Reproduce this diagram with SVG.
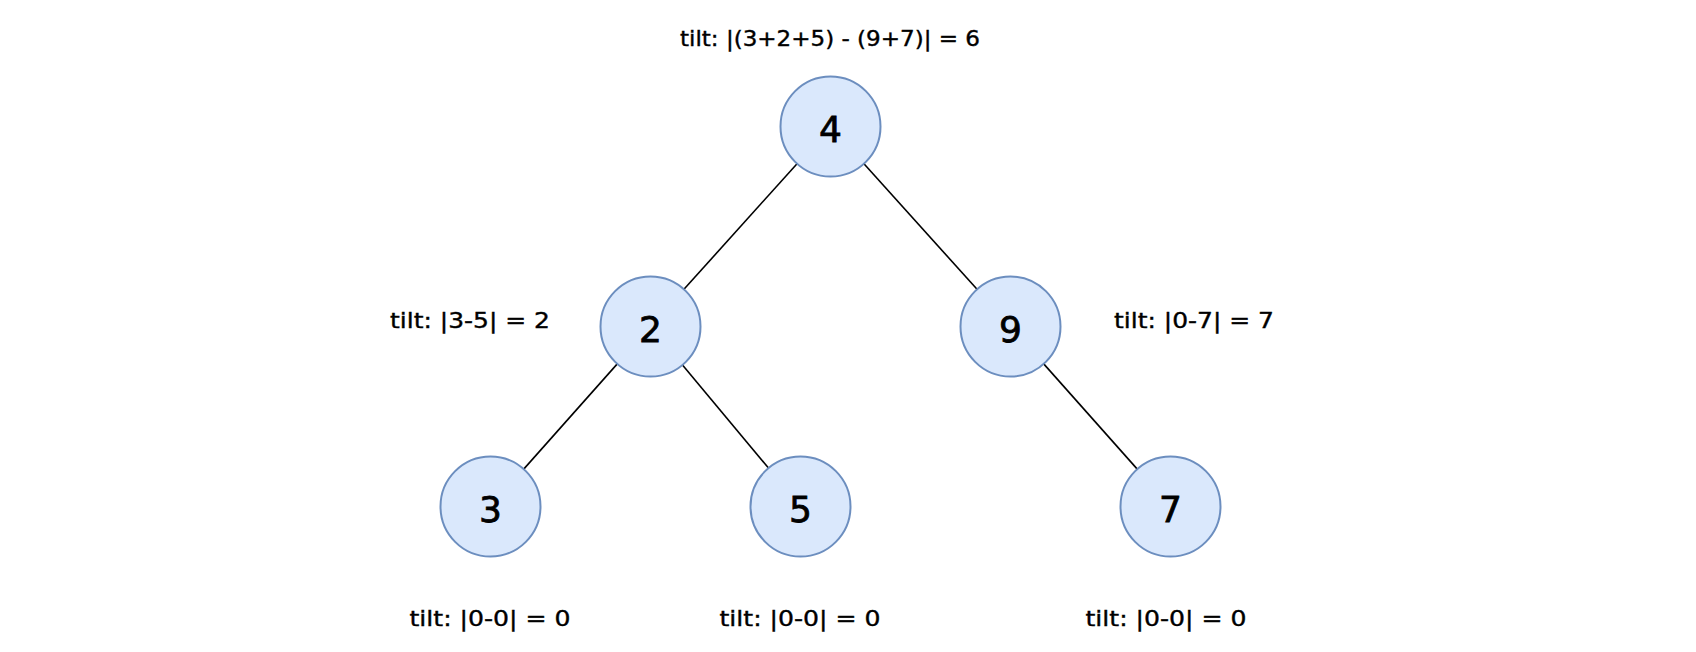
<svg xmlns="http://www.w3.org/2000/svg" width="1696" height="652" viewBox="0 0 1696 652">
<style>
.node{fill:#dae8fc;stroke:#6c8ebf;stroke-width:2}
.num{font-family:"DejaVu Sans",sans-serif;font-size:36px;fill:#000;stroke:#000;stroke-width:0.8;text-anchor:middle}
.lbl{font-family:"DejaVu Sans",sans-serif;font-size:22px;fill:#000;stroke:#000;stroke-width:0.4;text-anchor:middle}
.edge{stroke:#000;stroke-width:1.6;fill:none}
</style>
<rect width="1696" height="652" fill="#fff"/>
<g id="connectors">
<line class="edge" x1="797.05" y1="163.67" x2="683.95" y2="289.33"/>
<line class="edge" x1="863.95" y1="163.67" x2="977.05" y2="289.33"/>
<line class="edge" x1="617.28" y1="363.87" x2="523.72" y2="469.13"/>
<line class="edge" x1="682.51" y1="364.91" x2="768.49" y2="468.09"/>
<line class="edge" x1="1043.72" y1="363.87" x2="1137.28" y2="469.13"/>
</g>
<g id="node4"><circle class="node" cx="830.5" cy="126.5" r="50"/><text class="num" x="830.5" y="141.5">4</text></g>
<g id="node2"><circle class="node" cx="650.5" cy="326.5" r="50"/><text class="num" x="650.5" y="341.5">2</text></g>
<g id="node9"><circle class="node" cx="1010.5" cy="326.5" r="50"/><text class="num" x="1010.5" y="341.5">9</text></g>
<g id="node3"><circle class="node" cx="490.5" cy="506.5" r="50"/><text class="num" x="490.5" y="521.5">3</text></g>
<g id="node5"><circle class="node" cx="800.5" cy="506.5" r="50"/><text class="num" x="800.5" y="521.5">5</text></g>
<g id="node7"><circle class="node" cx="1170.5" cy="506.5" r="50"/><text class="num" x="1170.5" y="521.5">7</text></g>
<g id="labels">
<text class="lbl" x="830" y="46" textLength="300" lengthAdjust="spacingAndGlyphs">tilt: |(3+2+5) - (9+7)| = 6</text>
<text class="lbl" x="470" y="328" textLength="160" lengthAdjust="spacingAndGlyphs">tilt: |3-5| = 2</text>
<text class="lbl" x="1194" y="328" textLength="160" lengthAdjust="spacingAndGlyphs">tilt: |0-7| = 7</text>
<text class="lbl" x="490" y="626" textLength="161" lengthAdjust="spacingAndGlyphs">tilt: |0-0| = 0</text>
<text class="lbl" x="800" y="626" textLength="161" lengthAdjust="spacingAndGlyphs">tilt: |0-0| = 0</text>
<text class="lbl" x="1166" y="626" textLength="161" lengthAdjust="spacingAndGlyphs">tilt: |0-0| = 0</text>
</g>
</svg>
